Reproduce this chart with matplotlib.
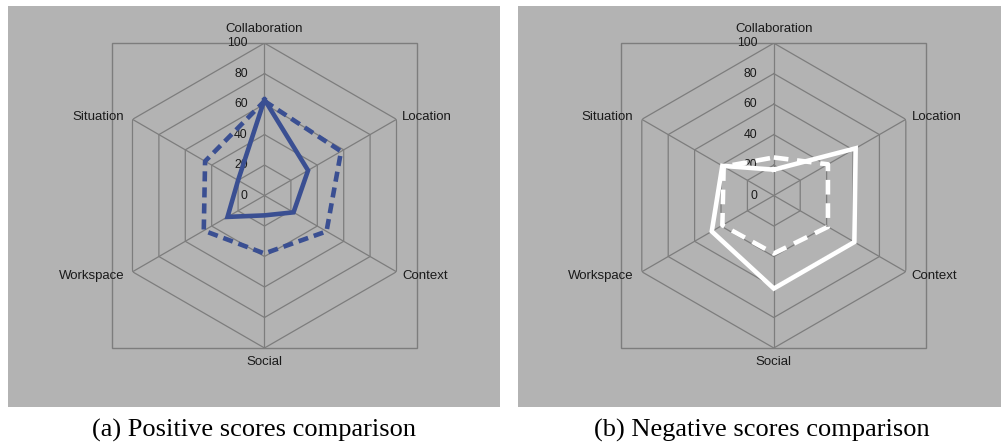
import numpy as np
import matplotlib
matplotlib.use("Agg")
import matplotlib.pyplot as plt
from matplotlib.patches import Rectangle

# radar axes, clockwise from the top
categories = ["Collaboration", "Location", "Context", "Social", "Workspace", "Situation"]
rings = [20, 40, 60, 80, 100]
tick_labels = ["0", "20", "40", "60", "80", "100"]

# (a) positive scores
pos_solid = [63, 33, 22, 13, 28, 20]
pos_dashed = [62, 58, 47, 38, 46, 45]
# (b) negative scores
neg_solid = [17, 62, 61, 61, 47, 39]
neg_dashed = [25, 41, 41, 38, 39, 38]

captions = ["(a) Positive scores comparison", "(b) Negative scores comparison"]

panel_gray = "#b3b3b3"
grid_gray = "#7d7d7d"

plt.rcParams["font.family"] = ["Liberation Sans", "DejaVu Sans"]

fig = plt.figure(figsize=(10.03, 4.47), dpi=100)

# gray panels behind each radar
fig.add_artist(Rectangle((0.008, 0.0895), 0.4905, 0.897, transform=fig.transFigure,
                         facecolor=panel_gray, edgecolor="none", zorder=-5))
fig.add_artist(Rectangle((0.5165, 0.0895), 0.4816, 0.897, transform=fig.transFigure,
                         facecolor=panel_gray, edgecolor="none", zorder=-5))

angles = np.arange(len(categories)) * 2 * np.pi / len(categories)
closed = np.append(angles, angles[0])


def close(vals):
    return list(vals) + [vals[0]]


def radar(rect, solid, dashed, color, dash_pattern):
    ax = fig.add_axes(rect, projection="polar")
    ax.set_theta_offset(np.pi / 2)
    ax.set_theta_direction(-1)
    ax.set_ylim(0, 100)
    ax.set_facecolor("none")
    ax.spines["polar"].set_visible(False)
    ax.grid(False)
    ax.set_xticks([])
    ax.set_yticks([])

    # hexagon grid
    for r in rings:
        ax.plot(closed, [r] * len(closed), color=grid_gray, lw=0.9, zorder=1)
    for a in angles:
        ax.plot([a, a], [0, 100], color=grid_gray, lw=0.9, zorder=1)
    ax.add_patch(Rectangle((0, 0), 1, 1, transform=ax.transAxes, fill=False,
                           edgecolor=grid_gray, lw=1.0, clip_on=False, zorder=1))

    # radial tick labels
    for r, lab in zip([0] + rings, tick_labels):
        ax.annotate(lab, xy=(0, r), xytext=(-12, 0), textcoords="offset points",
                    ha="right", va="center", fontsize=8.8, color="#1a1a1a",
                    annotation_clip=False, zorder=2)

    # category labels
    offsets = {
        "Collaboration": ((0, 10), "center"),
        "Location": ((4, 2), "left"),
        "Context": ((4, -3), "left"),
        "Social": ((0, -10), "center"),
        "Workspace": ((-6, -3), "right"),
        "Situation": ((-6, 2), "right"),
    }
    for a, name in zip(angles, categories):
        off, ha = offsets[name]
        ax.annotate(name, xy=(a, 100), xytext=off, textcoords="offset points",
                    ha=ha, va="center", fontsize=9.5, color="#1a1a1a",
                    annotation_clip=False)

    ax.plot(closed, close(dashed), color=color, lw=3.3, dashes=dash_pattern,
            solid_joinstyle="miter", zorder=3)
    ax.plot(closed, close(solid), color=color, lw=3.3, solid_joinstyle="miter", zorder=4)
    return ax


radar([0.1117, 0.2215, 0.304, 0.682], pos_solid, pos_dashed, "#3a4f92", (2.2, 1.3))
radar([0.6195, 0.2215, 0.304, 0.682], neg_solid, neg_dashed, "white", (3.2, 1.9))

fig.text(0.253, 0.038, captions[0], ha="center", va="center", fontsize=19,
         family="Liberation Serif", color="black")
fig.text(0.76, 0.038, captions[1], ha="center", va="center", fontsize=19,
         family="Liberation Serif", color="black")

fig.savefig("out.png", dpi=100)
